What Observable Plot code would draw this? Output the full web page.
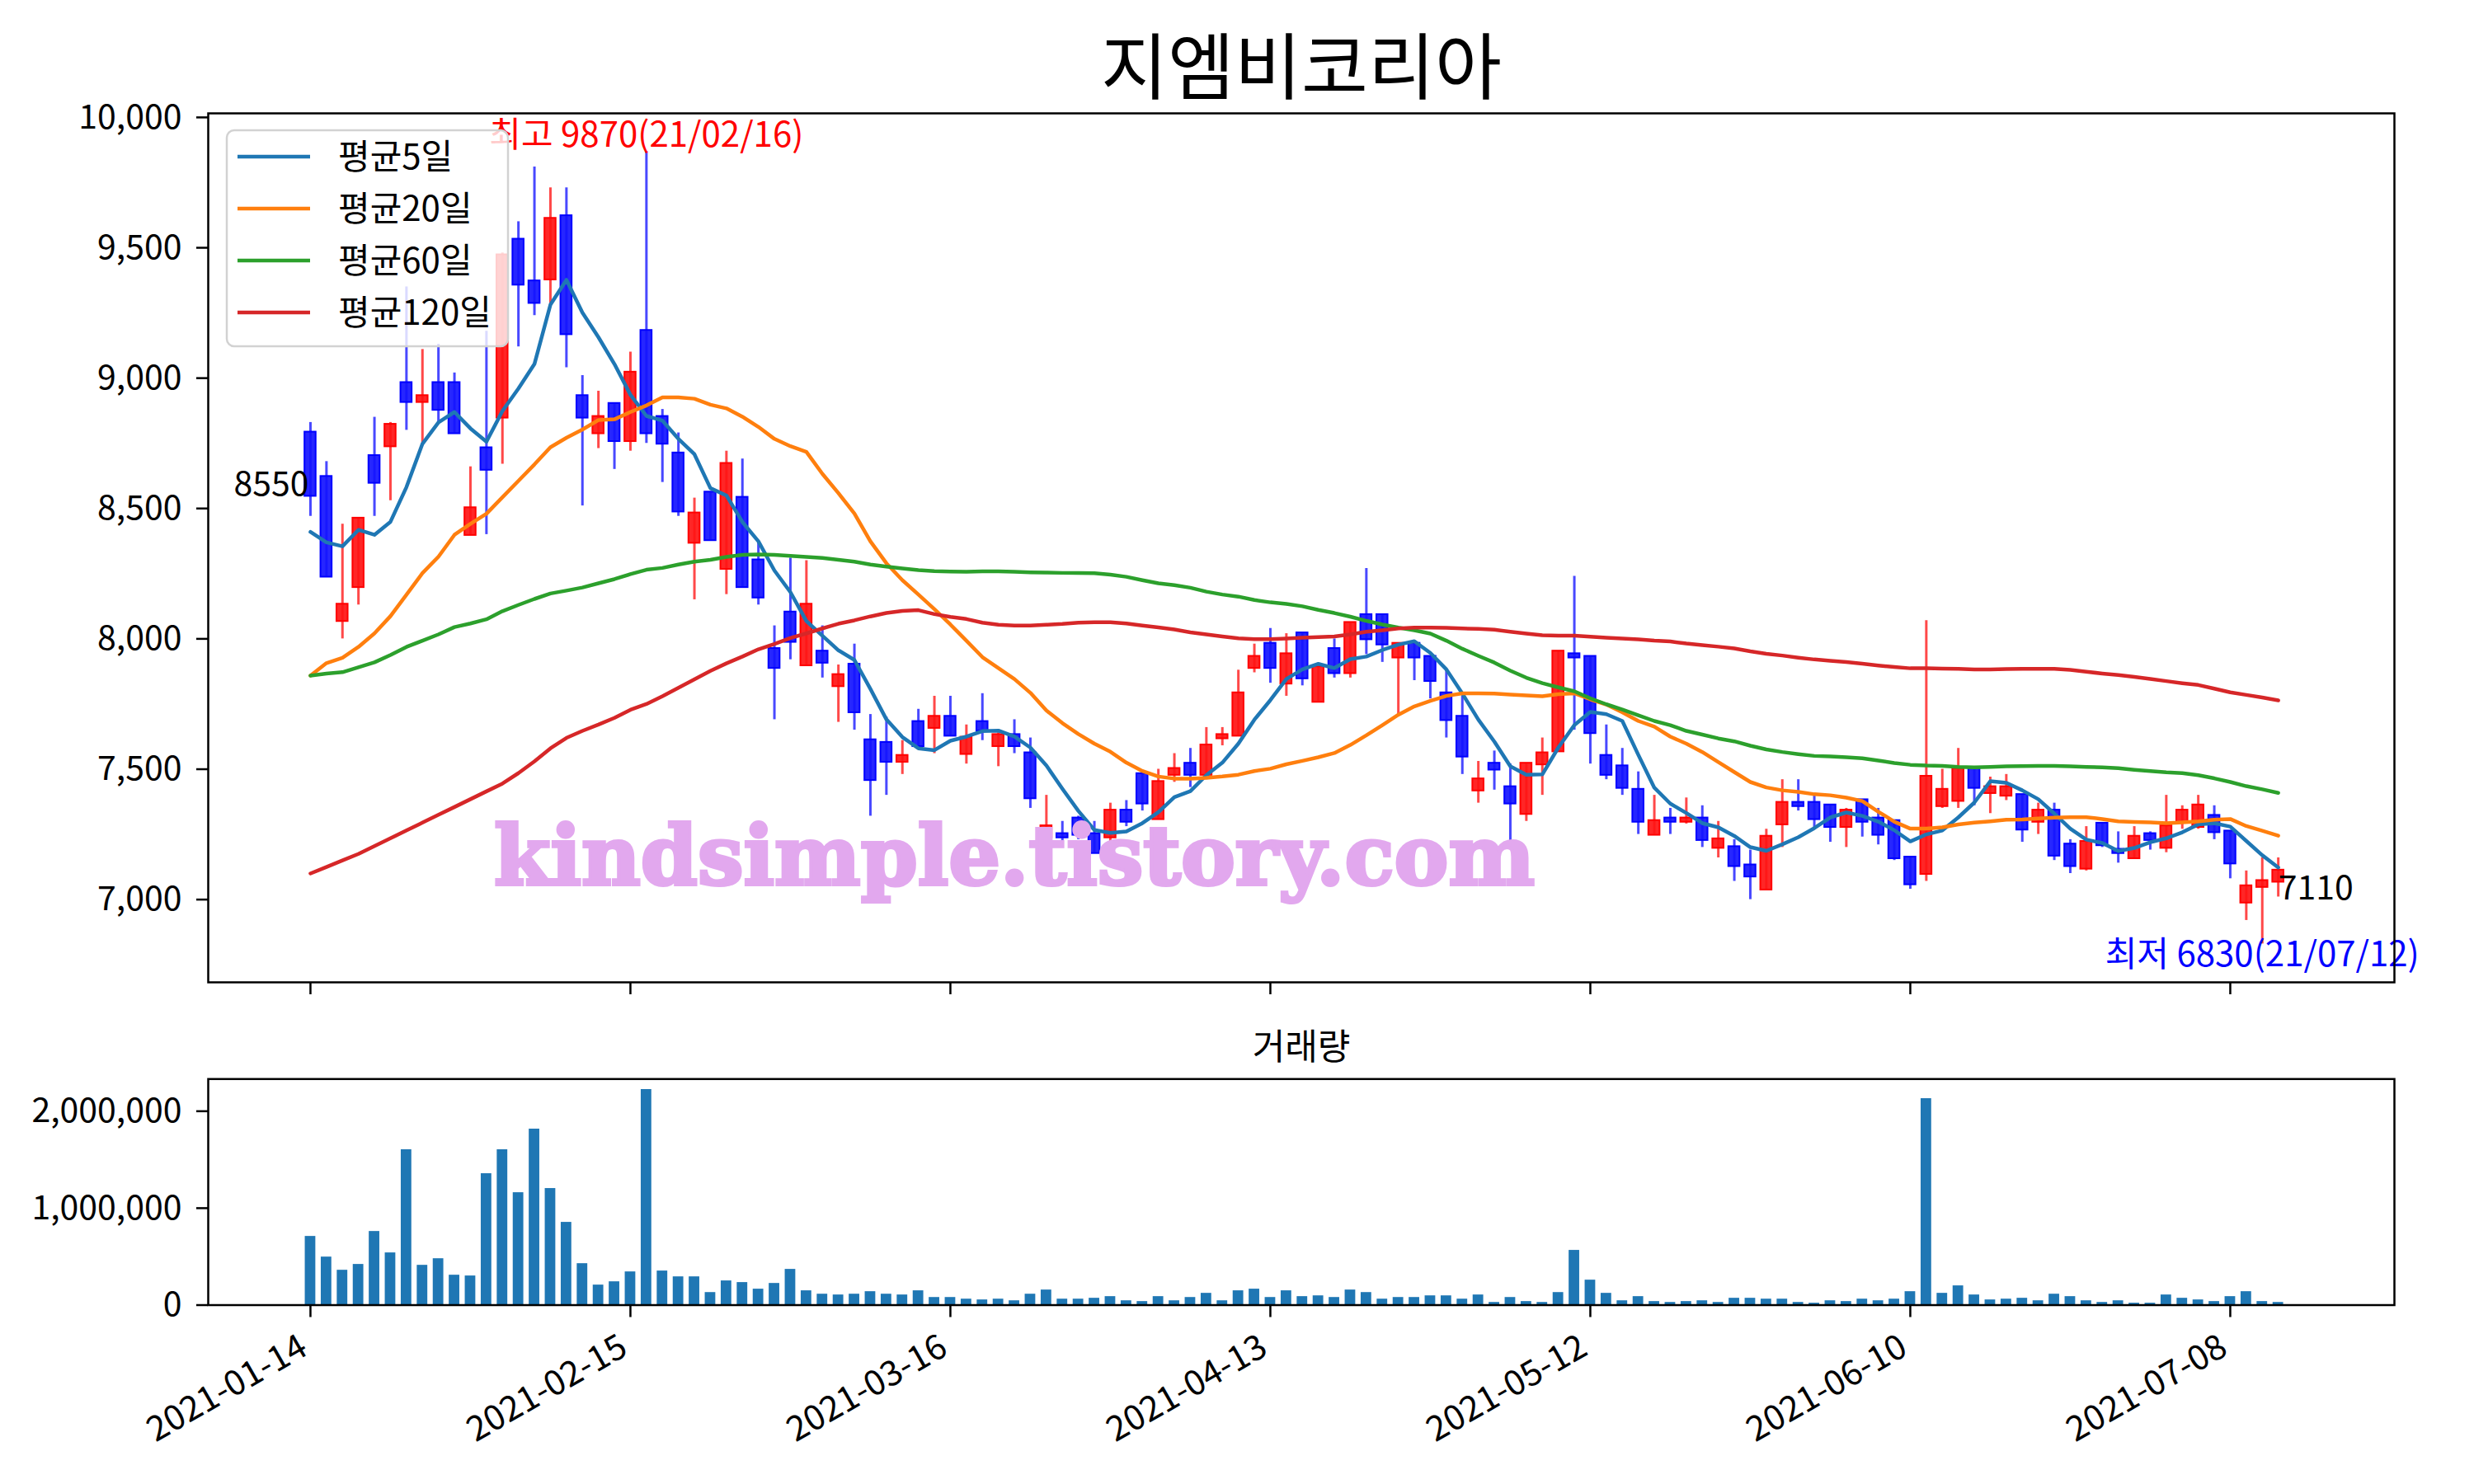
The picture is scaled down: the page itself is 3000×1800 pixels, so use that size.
<!DOCTYPE html>
<html><head><meta charset="utf-8">
<script src="https://cdn.jsdelivr.net/npm/d3@7"></script>
<script src="https://cdn.jsdelivr.net/npm/@observablehq/plot@0.6"></script>
<style>
html,body{margin:0;padding:0;background:#fff;}
#wrap{position:relative;width:3000px;height:1800px;overflow:hidden;background:#fff;}
#main,#vol{position:absolute;left:0;}
#main{top:0;} #vol{top:1230px;}
#overlay{position:absolute;left:0;top:0;pointer-events:none;}
</style></head>
<body><div id="wrap"><div id="main"></div><div id="vol"></div><svg id="overlay" width="3000" height="1800"></svg></div>
<script>
const title = "지엠비코리아";
const volumeTitle = "거래량";
const watermark = "kindsimple.tistory.com";
const legendLabels = ["평균5일", "평균20일", "평균60일", "평균120일"];
const maColors = ["#1f77b4", "#ff7f0e", "#2ca02c", "#d62728"];

const dates = [
"2021-01-14","2021-01-15","2021-01-18","2021-01-19","2021-01-20","2021-01-21","2021-01-22","2021-01-25","2021-01-26","2021-01-27","2021-01-28","2021-01-29",
"2021-02-01","2021-02-02","2021-02-03","2021-02-04","2021-02-05","2021-02-08","2021-02-09","2021-02-10","2021-02-15","2021-02-16","2021-02-17","2021-02-18","2021-02-19","2021-02-22","2021-02-23","2021-02-24","2021-02-25","2021-02-26",
"2021-03-02","2021-03-03","2021-03-04","2021-03-05","2021-03-08","2021-03-09","2021-03-10","2021-03-11","2021-03-12","2021-03-15","2021-03-16","2021-03-17","2021-03-18","2021-03-19","2021-03-22","2021-03-23","2021-03-24","2021-03-25","2021-03-26","2021-03-29","2021-03-30","2021-03-31",
"2021-04-01","2021-04-02","2021-04-05","2021-04-06","2021-04-07","2021-04-08","2021-04-09","2021-04-12","2021-04-13","2021-04-14","2021-04-15","2021-04-16","2021-04-19","2021-04-20","2021-04-21","2021-04-22","2021-04-23","2021-04-26","2021-04-27","2021-04-28","2021-04-29","2021-04-30",
"2021-05-03","2021-05-04","2021-05-06","2021-05-07","2021-05-10","2021-05-11","2021-05-12","2021-05-13","2021-05-14","2021-05-17","2021-05-18","2021-05-20","2021-05-21","2021-05-24","2021-05-25","2021-05-26","2021-05-27","2021-05-28","2021-05-31",
"2021-06-01","2021-06-02","2021-06-03","2021-06-04","2021-06-07","2021-06-08","2021-06-09","2021-06-10","2021-06-11","2021-06-14","2021-06-15","2021-06-16","2021-06-17","2021-06-18","2021-06-21","2021-06-22","2021-06-23","2021-06-24","2021-06-25","2021-06-28","2021-06-29","2021-06-30",
"2021-07-01","2021-07-02","2021-07-05","2021-07-06","2021-07-07","2021-07-08","2021-07-09","2021-07-12","2021-07-13"];

const open = [8790,8620,8070,8200,8700,8740,8980,8910,8980,8980,8400,8730,8850,9530,9370,9380,9620,8930,8790,8900,
8760,9180,8850,8710,8370,8560,8270,8540,8300,7960,8100,7900,7950,7820,7900,7610,7600,7530,7680,7660,
7700,7560,7680,7590,7630,7560,7240,7250,7310,7250,7240,7340,7480,7310,7480,7520,7480,7620,7630,7890,
7980,7830,8020,7760,7960,7870,8090,8090,7930,7980,7930,7790,7700,7420,7520,7430,7330,7520,7570,7940,
7930,7550,7510,7420,7250,7310,7300,7310,7200,7200,7130,7040,7290,7370,7370,7360,7280,7380,7310,7300,
7160,7100,7360,7380,7500,7410,7400,7400,7300,7340,7210,7120,7290,7190,7160,7250,7200,7300,7280,7320,
7260,6990,7050,7070];
const high = [8830,8680,8440,8460,8850,8830,9350,9110,9130,9020,8660,9180,9480,9600,9810,9730,9730,9010,8950,8900,
9100,9870,8880,8790,8540,8560,8720,8690,8370,8050,8310,8300,8050,7900,7980,7710,7700,7610,7730,7780,
7780,7670,7790,7640,7690,7620,7400,7300,7320,7300,7370,7380,7490,7500,7560,7580,7660,7660,7880,7980,
8040,8020,8020,7890,8000,8060,8270,8090,7980,7980,7930,7880,7780,7530,7570,7520,7520,7620,7950,8240,
7930,7670,7580,7490,7400,7350,7390,7360,7300,7230,7190,7270,7460,7460,7400,7360,7350,7380,7350,7300,
7160,8070,7500,7580,7500,7470,7480,7400,7370,7370,7230,7280,7290,7260,7280,7260,7400,7360,7400,7360,
7260,7110,7160,7160];
const low = [8470,8240,8000,8130,8470,8530,8800,8750,8830,8790,8400,8400,8670,9120,9240,9280,9040,8510,8730,8650,
8720,8750,8600,8470,8150,8380,8170,8200,8130,7690,7920,7900,7850,7680,7650,7320,7400,7480,7590,7560,
7630,7520,7610,7510,7560,7350,7230,7200,7230,7180,7220,7280,7340,7310,7450,7430,7460,7590,7630,7870,
7830,7780,7820,7760,7850,7850,7940,7910,7710,7840,7770,7620,7480,7370,7420,7220,7300,7400,7570,7650,
7520,7460,7400,7250,7250,7250,7290,7200,7160,7070,7000,7040,7200,7340,7270,7220,7200,7240,7210,7150,
7040,7070,7350,7350,7360,7330,7380,7220,7250,7150,7100,7110,7200,7140,7160,7190,7180,7270,7270,7230,
7080,6920,6830,7010];
const close = [8550,8240,8130,8460,8600,8820,8910,8930,8880,8790,8500,8650,9470,9360,9290,9610,9170,8850,8850,8760,
9020,8790,8750,8490,8480,8380,8670,8200,8160,7890,7990,8130,7910,7860,7720,7460,7530,7550,7590,7700,
7630,7620,7650,7630,7590,7390,7280,7240,7250,7180,7340,7300,7370,7450,7500,7480,7590,7630,7790,7930,
7890,7940,7850,7890,7870,8060,8000,7980,7980,7930,7840,7690,7550,7460,7500,7370,7520,7560,7950,7930,
7640,7480,7430,7300,7300,7300,7310,7230,7230,7130,7090,7240,7370,7360,7310,7280,7340,7300,7250,7160,
7060,7470,7420,7500,7430,7430,7430,7270,7340,7170,7130,7220,7210,7180,7240,7230,7280,7340,7360,7260,
7140,7050,7070,7110];
const volume = [709000,496000,360000,420000,760000,539000,1603000,411000,479000,309000,
301000,1356000,1603000,1160000,1816000,1203000,854000,428000,207000,241000,
343000,2224000,352000,292000,292000,130000,250000,233000,165000,224000,
369000,148000,113000,105000,113000,139000,113000,105000,148000,79000,
79000,62000,54000,62000,45000,113000,156000,62000,62000,71000,
88000,45000,37000,88000,45000,79000,122000,45000,148000,165000,
79000,148000,88000,96000,79000,156000,130000,62000,79000,79000,
96000,96000,62000,105000,28000,79000,37000,28000,130000,565000,
258000,122000,45000,88000,37000,28000,37000,45000,28000,71000,
71000,62000,62000,28000,20000,45000,37000,62000,45000,62000,
139000,2130000,122000,199000,105000,54000,62000,71000,45000,113000,
88000,45000,28000,45000,20000,20000,105000,71000,54000,37000,
88000,139000,37000,28000];
const ma5 = [8410,8370,8355,8418,8399,8449,8582,8748,8830,8870,8807,8756,8874,8960,9054,9282,9377,9251,9157,9054,
8936,8855,8837,8767,8708,8578,8550,8448,8374,8262,8179,8068,8012,7956,7919,7808,7691,7623,7580,7573,
7609,7625,7646,7648,7625,7583,7514,7425,7340,7267,7256,7261,7293,7335,7393,7416,7477,7525,7598,7690,
7765,7846,7883,7904,7888,7922,7932,7957,7978,7991,7946,7883,7790,7690,7606,7511,7479,7480,7583,7669,
7720,7711,7685,7555,7429,7368,7332,7293,7277,7244,7201,7187,7212,7239,7274,7315,7334,7321,7299,7266,
7223,7250,7265,7315,7372,7454,7448,7419,7385,7330,7272,7230,7217,7186,7198,7220,7235,7258,7288,7293,
7280,7225,7170,7123];
const ma20 = [7859,7907,7927,7969,8021,8087,8169,8252,8315,8399,8441,8480,8543,8606,8669,8735,8771,8803,8839,8842,
8870,8895,8926,8926,8921,8898,8884,8852,8813,8767,8739,8717,8633,8559,8481,8374,8290,8225,8170,8114,
8055,7993,7930,7888,7846,7793,7725,7677,7635,7598,7567,7525,7493,7472,7464,7464,7467,7472,7479,7493,
7502,7519,7532,7546,7562,7593,7630,7669,7709,7741,7762,7781,7791,7791,7790,7786,7783,7780,7788,7791,
7768,7748,7718,7685,7663,7625,7598,7566,7527,7489,7451,7430,7419,7413,7404,7400,7391,7378,7337,7299,
7272,7272,7277,7288,7295,7300,7306,7307,7311,7314,7316,7316,7309,7300,7298,7296,7293,7296,7300,7306,
7309,7282,7264,7245];
const ma60 = [7859,7867,7872,7891,7910,7938,7969,7993,8017,8045,8059,8075,8106,8130,8153,8174,8185,8197,8213,8229,
8248,8265,8272,8285,8296,8303,8314,8322,8324,8322,8318,8314,8310,8303,8296,8285,8277,8270,8264,8260,
8258,8257,8259,8259,8257,8255,8254,8253,8253,8252,8246,8238,8225,8213,8206,8196,8181,8170,8162,8149,
8140,8134,8125,8111,8099,8085,8069,8055,8043,8033,8020,7993,7962,7935,7909,7878,7851,7830,7814,7799,
7772,7749,7729,7707,7685,7669,7647,7633,7618,7607,7590,7576,7566,7558,7551,7549,7546,7542,7533,7524,
7517,7514,7513,7509,7507,7509,7511,7512,7513,7513,7511,7509,7507,7504,7498,7493,7488,7485,7477,7465,
7451,7435,7423,7409];
const ma120 = [7100,7125,7150,7175,7205,7235,7265,7295,7325,7355,7385,7415,7445,7485,7530,7580,7620,7647,7671,7697,
7728,7750,7780,7812,7845,7877,7906,7932,7960,7980,8003,8021,8040,8058,8071,8086,8099,8107,8110,8095,
8084,8076,8062,8054,8051,8051,8054,8057,8062,8064,8064,8059,8051,8044,8036,8025,8017,8009,8002,7999,
7999,8001,8004,8007,8009,8017,8027,8033,8040,8043,8043,8042,8040,8038,8035,8027,8020,8014,8012,8012,
8008,8004,8001,7998,7993,7990,7982,7976,7970,7963,7952,7943,7936,7928,7921,7916,7911,7905,7898,7892,
7887,7887,7886,7885,7883,7883,7884,7885,7885,7885,7881,7874,7867,7861,7854,7846,7838,7830,7823,7809,
7795,7785,7775,7764];
const priceTicks = [7000, 7500, 8000, 8500, 9000, 9500, 10000];
const volumeTicks = [0, 1000000, 2000000];
const tickIdx = [0, 20, 40, 60, 80, 100, 120];

const FONT = "'Noto Sans CJK KR','Noto Sans',sans-serif";
const UP = "#ff1414", DOWN = "#1414ff";
const idx = d3.range(dates.length);
const candles = idx.map(i => ({i, o: open[i], h: high[i], l: low[i], c: close[i], up: close[i] > open[i]}));
const maxI = d3.maxIndex(high), minI = d3.minIndex(low);
const shortDate = s => s.slice(2).replaceAll("-", "/");
const last = dates.length - 1;
const xDomain = [-6.39, 130.26];
const fmt = d3.format(",");
const mas = [ma5, ma20, ma60, ma120];

const mainPlot = Plot.plot({
  width: 3000, height: 1230,
  marginLeft: 252, marginRight: 97, marginTop: 137, marginBottom: 39,
  x: {domain: xDomain, axis: null},
  y: {domain: [6682.6, 10015.5], axis: null},
  style: {fontFamily: FONT, fontSize: "40px", background: "transparent", color: "black", overflow: "visible"},
  marks: [
    Plot.ruleX(candles, {x: "i", y1: "l", y2: "h", stroke: d => d.up ? UP : DOWN, strokeOpacity: 0.78, strokeWidth: 3}),
    Plot.rect(candles, {x1: d => d.i - 0.35, x2: d => d.i + 0.35, y1: "o", y2: "c",
      fill: d => d.up ? UP : DOWN, fillOpacity: 0.92, stroke: d => d.up ? "#ff0000" : "#0000ff", strokeWidth: 2,
      insetTop: -1, insetBottom: -1}),
    ...mas.map((m, k) => Plot.line(idx, {x: d => d, y: d => m[d], stroke: maColors[k], strokeWidth: 4.5})),
    Plot.text([maxI], {x: d => d, y: d => high[d], text: d => `최고 ${high[d]}(${shortDate(dates[d])})`,
      fill: "#ff0000", fontSize: 42, lineAnchor: "bottom", dy: -6}),
    Plot.text([minI], {x: d => d, y: d => low[d], text: d => `최저 ${low[d]}(${shortDate(dates[d])})`,
      fill: "#0000ff", fontSize: 42, lineAnchor: "top", dy: -3}),
    Plot.text([0], {x: d => d, y: d => close[d], text: d => `${close[d]}`, fill: "black", fontSize: 41,
      textAnchor: "end", lineAnchor: "bottom", dx: -2}),
    Plot.text([last], {x: d => d, y: d => close[d], text: d => `${close[d]}`, fill: "black", fontSize: 41,
      textAnchor: "start", lineAnchor: "top", dy: 6}),
    Plot.frame({stroke: "black", strokeWidth: 2.5}),
    Plot.axisY({ticks: priceTicks, tickFormat: fmt, tickSize: 14, tickPadding: 18, strokeWidth: 2.5, fontSize: 41, anchor: "left", label: null}),
    Plot.axisX({ticks: tickIdx, tickSize: 15, tickFormat: () => "", strokeWidth: 2.5, anchor: "bottom", label: null})
  ]
});
document.getElementById("main").append(mainPlot);

const volPlot = Plot.plot({
  width: 3000, height: 570,
  marginLeft: 252, marginRight: 97, marginTop: 78.3, marginBottom: 217.5,
  x: {domain: xDomain, axis: null},
  y: {domain: [0, 2332000], axis: null},
  style: {fontFamily: FONT, fontSize: "40px", background: "transparent", color: "black", overflow: "visible"},
  marks: [
    Plot.rect(idx, {x1: d => d - 0.33, x2: d => d + 0.33, y1: d => 0, y2: d => volume[d], fill: "#1f77b4"}),
    Plot.frame({stroke: "black", strokeWidth: 2.5}),
    Plot.axisY({ticks: volumeTicks, tickFormat: fmt, tickSize: 14, tickPadding: 18, strokeWidth: 2.5, fontSize: 41, anchor: "left", label: null}),
    Plot.axisX({ticks: tickIdx, tickSize: 15, tickFormat: () => "", strokeWidth: 2.5, anchor: "bottom", label: null}),
    Plot.text(tickIdx, {x: d => d, frameAnchor: "bottom", text: d => dates[d], rotate: -30,
      textAnchor: "end", lineAnchor: "top", dx: -16, dy: 33, fontSize: 42, fill: "black"})
  ]
});
document.getElementById("vol").append(volPlot);

// overlay: titles, watermark, legend
const ov = d3.select("#overlay").style("font-family", FONT);
ov.append("text").attr("x", 1578).attr("y", 113).attr("text-anchor", "middle")
  .attr("font-size", 88).attr("fill", "black").text(title);
ov.append("text").attr("x", 1578).attr("y", 1285).attr("text-anchor", "middle")
  .attr("font-size", 43).attr("fill", "black").text(volumeTitle);
ov.append("text").attr("x", 599).attr("y", 1073).attr("textLength", 1262).attr("lengthAdjust", "spacingAndGlyphs")
  .attr("font-family", "'DejaVu Serif',serif").attr("font-weight", "bold").attr("font-size", 100)
  .attr("fill", "#e2a8ee").attr("stroke", "#e2a8ee").attr("stroke-width", 4).text(watermark);
const lg = ov.append("g").attr("transform", "translate(274,157)");
lg.append("rect").attr("x", 1).attr("y", 1).attr("width", 341).attr("height", 262).attr("rx", 9)
  .attr("fill", "rgba(255,255,255,0.8)").attr("stroke", "#d2d2d2").attr("stroke-width", 2.5);
legendLabels.forEach((lab, k) => {
  const cy = 33 + k * 63;
  lg.append("line").attr("x1", 14).attr("x2", 102).attr("y1", cy).attr("y2", cy)
    .attr("stroke", maColors[k]).attr("stroke-width", 4.5);
  lg.append("text").attr("x", 136).attr("y", cy).attr("dy", "0.36em").attr("font-size", 42)
    .attr("fill", "black").text(lab);
});
</script></body></html>
